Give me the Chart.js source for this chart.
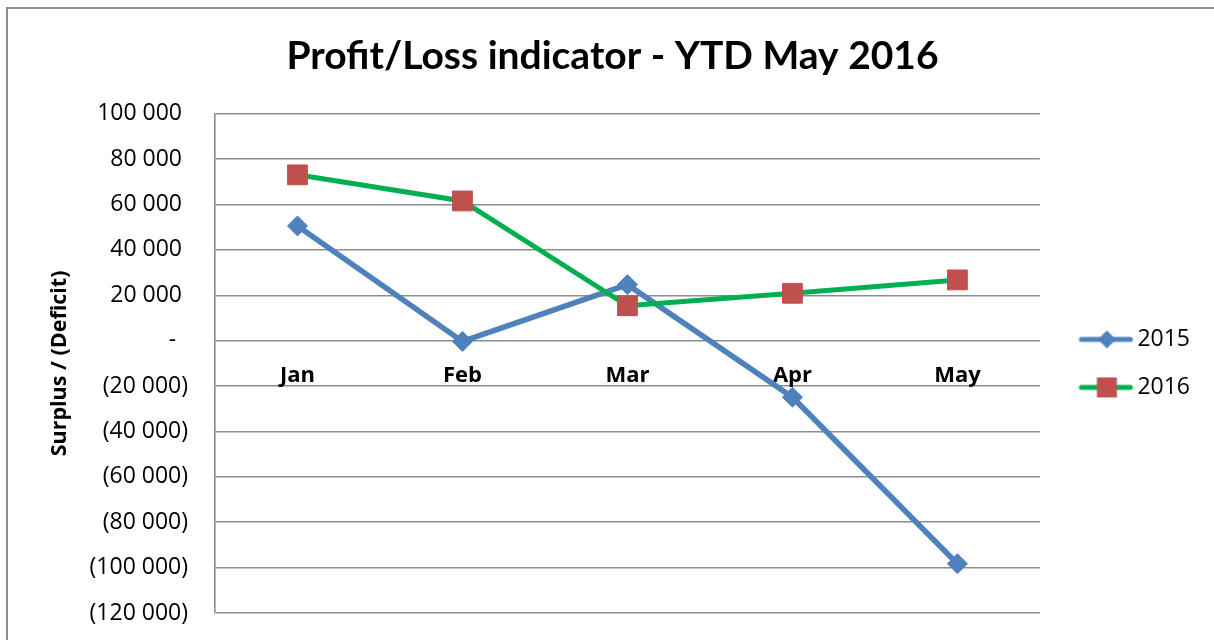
<!DOCTYPE html>
<html lang="en">
<head>
    <meta charset="UTF-8">
    <title>Profit/Loss indicator - YTD May 2016</title>
    <script src="https://cdn.jsdelivr.net/npm/chart.js"></script>
    <style>
        html, body {
            margin: 0;
            padding: 0;
            background: #ffffff;
            overflow: hidden;
        }
        .frame {
            position: absolute;
            left: 6px;
            top: 7px;
            width: 1300px;
            height: 700px;
            border-left: 2px solid #8c8c8c;
            border-top: 2px solid #8c8c8c;
        }
        #plChart {
            position: absolute;
            left: 0;
            top: 0;
        }
    </style>
</head>
<body>
    <div class="frame"></div>
    <canvas id="plChart" width="1200" height="640"></canvas>
    <script>
        // values
        const months = ['Jan', 'Feb', 'Mar', 'Apr', 'May'];
        const values2015 = [50600, -300, 24700, -24900, -98300];
        const values2016 = [73100, 61600, 15400, 20900, 26800];
        const seriesNames = ['2015', '2016'];
        const yMin = -120000;
        const yMax = 100000;
        const yStep = 20000;

        const blue = '#4F81BD';
        const green = '#00B050';
        const red = '#C0504D';

        function fmt(v) {
            return Math.abs(v).toString().replace(/\B(?=(\d{3})+(?!\d))/g, ' ');
        }

        // legend swatch: a short line with the series marker on it
        function legendSwatch(lineColor, markerColor, diamond) {
            const c = document.createElement('canvas');
            c.width = 80;
            c.height = 24;
            const g = c.getContext('2d');
            g.strokeStyle = lineColor;
            g.lineWidth = 5;
            g.lineCap = 'round';
            g.beginPath();
            g.moveTo(26, 12);
            g.lineTo(75, 12);
            g.stroke();
            g.fillStyle = markerColor;
            if (diamond) {
                g.beginPath();
                g.moveTo(51.5, 3);
                g.lineTo(60.5, 12);
                g.lineTo(51.5, 21);
                g.lineTo(42.5, 12);
                g.closePath();
                g.fill();
            } else {
                g.fillRect(41.5, 2, 20, 20);
            }
            return c;
        }
        const swatches = [legendSwatch(blue, blue, true), legendSwatch(green, red, false)];

        const ctx = document.getElementById('plChart').getContext('2d');
        const chart = new Chart(ctx, {
            type: 'line',
            data: {
                labels: months,
                datasets: [{
                    label: seriesNames[0],
                    data: values2015,
                    borderColor: blue,
                    backgroundColor: blue,
                    borderWidth: 5.5,
                    pointStyle: 'rectRot',
                    pointRadius: 10,
                    pointBackgroundColor: blue,
                    pointBorderColor: blue,
                    pointBorderWidth: 1,
                    order: 1
                }, {
                    label: seriesNames[1],
                    data: values2016,
                    borderColor: green,
                    backgroundColor: green,
                    borderWidth: 5,
                    pointStyle: 'rect',
                    pointRadius: 14,
                    pointBackgroundColor: red,
                    pointBorderColor: red,
                    pointBorderWidth: 1,
                    order: 0
                }]
            },
            options: {
                responsive: false,
                animation: false,
                layout: {
                    padding: { top: 0, left: 25, right: 0, bottom: 27 }
                },
                plugins: {
                    title: {
                        display: true,
                        text: 'Profit/Loss indicator - YTD May 2016',
                        color: '#000',
                        font: { family: 'Lato', size: 39, weight: 'bold' },
                        padding: { top: 33, bottom: 34 }
                    },
                    legend: {
                        position: 'right',
                        fullSize: false,
                        labels: {
                            usePointStyle: true,
                            pointStyleWidth: 61,
                            padding: 25,
                            color: '#000',
                            font: { family: 'Open Sans', size: 23 },
                            generateLabels: function (ch) {
                                return ch.data.datasets.map(function (ds, i) {
                                    return {
                                        text: ds.label,
                                        pointStyle: swatches[i],
                                        fillStyle: ds.borderColor,
                                        strokeStyle: ds.borderColor,
                                        lineWidth: 0,
                                        hidden: false,
                                        datasetIndex: i
                                    };
                                });
                            }
                        }
                    },
                    tooltip: { enabled: false }
                },
                scales: {
                    x: {
                        position: { y: 0 },
                        offset: true,
                        grid: { display: false },
                        border: { display: false },
                        ticks: {
                            color: '#000',
                            padding: 14,
                            font: { family: 'Open Sans', size: 22, weight: 'bold' }
                        }
                    },
                    y: {
                        min: yMin,
                        max: yMax,
                        afterFit: function (scale) {
                            scale.width = 190;
                            scale.paddingTop = 0;
                            scale.paddingBottom = 0;
                        },
                        grid: {
                            color: '#8c8c8c',
                            lineWidth: 1.6,
                            drawTicks: false
                        },
                        border: { color: '#8c8c8c', width: 1.6 },
                        ticks: {
                            stepSize: yStep,
                            padding: 27,
                            color: '#000',
                            font: { family: 'Open Sans', size: 23 },
                            callback: function (v) {
                                if (v === 0) return '-  ';
                                if (v < 0) return '(' + fmt(v) + ')';
                                return fmt(v) + ' ';
                            }
                        },
                        title: {
                            display: true,
                            text: 'Surplus / (Deficit)',
                            color: '#000',
                            font: { family: 'Open Sans', size: 21.5, weight: 'bold' },
                            padding: { top: 22, bottom: 0 }
                        }
                    }
                }
            }
        });
    </script>
</body>
</html>
